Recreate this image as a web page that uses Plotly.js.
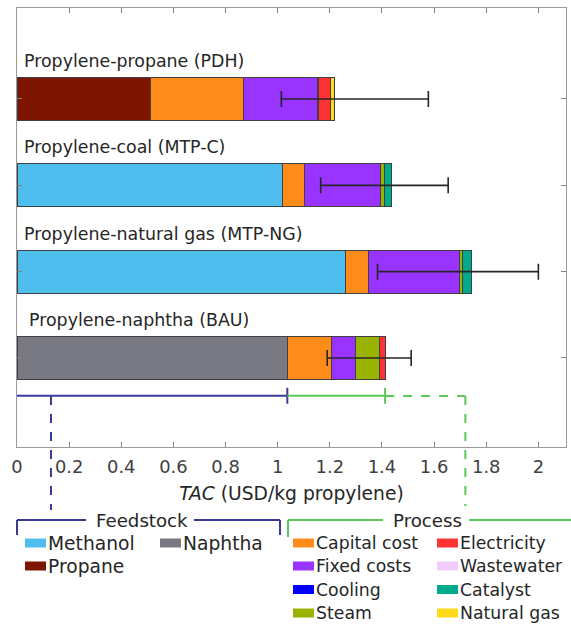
<!DOCTYPE html>
<html><head><meta charset="utf-8">
<script src="https://cdn.plot.ly/plotly-3.0.1.min.js"></script>
<style>html,body{margin:0;padding:0;background:#fff}#chart{width:571px;height:625px}</style>
</head><body><div id="chart"></div>
<script>
// ---------- data ----------
const categories = ['Propylene-naphtha (BAU)', 'Propylene-natural gas (MTP-NG)', 'Propylene-coal (MTP-C)', 'Propylene-propane (PDH)'];
const catPos = [1, 2, 3, 4];
const methanol    = [0, 1.260, 1.017, 0];
const propane     = [0, 0, 0, 0.512];
const naphtha     = [1.037, 0, 0, 0];
const capitalCost = [0.171, 0.090, 0.087, 0.356];
const fixedCosts  = [0.091, 0.346, 0.292, 0.283];
const cooling     = [0, 0, 0, 0];
const steam       = [0.091, 0.013, 0.012, 0.006];
const electricity = [0.022, 0, 0, 0.047];
const wastewater  = [0, 0, 0, 0];
const catalyst    = [0, 0.033, 0.029, 0];
const naturalGas  = [0, 0, 0, 0.013];
const errLow  = [1.190, 1.383, 1.165, 1.014];
const errHigh = [1.512, 2.000, 1.654, 1.578];
const xTickVals = [0, 0.2, 0.4, 0.6, 0.8, 1, 1.2, 1.4, 1.6, 1.8, 2];
const xTickText = ['0', '0.2', '0.4', '0.6', '0.8', '1', '1.2', '1.4', '1.6', '1.8', '2'];

const series = [
  {name: 'Methanol', v: methanol, c: '#4DBEEE', g: 'F'},
  {name: 'Propane', v: propane, c: '#7E1500', g: 'F'},
  {name: 'Naphtha', v: naphtha, c: '#797983', g: 'F'},
  {name: 'Capital cost', v: capitalCost, c: '#FF8C1A', g: 'P'},
  {name: 'Fixed costs', v: fixedCosts, c: '#9933FF', g: 'P'},
  {name: 'Cooling', v: cooling, c: '#0000FF', g: 'P'},
  {name: 'Steam', v: steam, c: '#99B300', g: 'P'},
  {name: 'Electricity', v: electricity, c: '#FF3333', g: 'P'},
  {name: 'Wastewater', v: wastewater, c: '#F2CCFF', g: 'P'},
  {name: 'Catalyst', v: catalyst, c: '#00AA8C', g: 'P'},
  {name: 'Natural gas', v: naturalGas, c: '#FFD91A', g: 'P'}
];

const FONT = 'DejaVu Sans, sans-serif';
const TXT = '#262626';

const traces = series.map(s => ({
  type: 'bar', orientation: 'h', name: s.name,
  y: catPos, x: s.v.map(v => v === 0 ? null : v),
  width: 0.5,
  marker: {color: s.c, line: {color: '#404040', width: 1}},
  showlegend: false, hoverinfo: 'x+name'
}));

const totals = catPos.map((_, i) => series.reduce((a, s) => a + s.v[i], 0));
traces.push({
  type: 'scatter', mode: 'markers', y: catPos, x: totals,
  marker: {size: 1, opacity: 0}, showlegend: false, hoverinfo: 'skip',
  error_x: {type: 'data', symmetric: false,
    array: totals.map((t, i) => errHigh[i] - t),
    arrayminus: totals.map((t, i) => t - errLow[i]),
    color: '#262626', thickness: 1.6, width: 8}
});

// ---------- layout helpers (pixel -> paper) ----------
const W = 571, H = 625, ML = 17, MR = 5, MT = 8, MB = 178;
const PW = W - ML - MR, PH = H - MT - MB;
const px = p => (p - ML) / PW;
const py = p => (H - MB - p) / PH;

const shapes = [];
const annotations = [];

// category labels
categories.forEach((c, i) => {
  annotations.push({xref: 'x', yref: 'y', x: i === 0 ? 0.038 : 0.019, y: catPos[i] + 0.44,
    text: c, showarrow: false, xanchor: 'left', yanchor: 'middle',
    font: {family: FONT, size: 17.4, color: TXT}});
});

// BAU bracket line (feedstock / process portions)
const BLUE = '#3A3A9A', GREEN = '#5CC85C';
const bauFeed = naphtha[0];
const bauTotal = totals[0];
const yBr = 0.563, yTk0 = 0.47, yTk1 = 0.655;
shapes.push({type: 'line', xref: 'x', yref: 'y', x0: 0, x1: bauFeed, y0: yBr, y1: yBr, line: {color: BLUE, width: 2}});
shapes.push({type: 'line', xref: 'x', yref: 'y', x0: bauFeed, x1: bauFeed, y0: yTk0, y1: yTk1, line: {color: BLUE, width: 2}});
shapes.push({type: 'line', xref: 'x', yref: 'y', x0: bauFeed, x1: bauTotal, y0: yBr, y1: yBr, line: {color: GREEN, width: 2}});
shapes.push({type: 'line', xref: 'x', yref: 'y', x0: bauTotal, x1: bauTotal, y0: yTk0, y1: yTk1, line: {color: GREEN, width: 2}});
// dashed connectors
const yBrPaper = py(396);
shapes.push({type: 'line', xref: 'paper', yref: 'paper', x0: px(51), x1: px(51), y0: yBrPaper, y1: py(510), line: {color: BLUE, width: 2, dash: 'dash'}});
shapes.push({type: 'line', xref: 'x', yref: 'paper', x0: bauTotal, x1: 1.72, y0: yBrPaper, y1: yBrPaper, line: {color: GREEN, width: 2, dash: 'dash'}});
shapes.push({type: 'line', xref: 'x', yref: 'paper', x0: 1.72, x1: 1.72, y0: yBrPaper, y1: py(506), line: {color: GREEN, width: 2, dash: 'dash'}});

// legend brackets
const lp = (x0, y0, x1, y1, c) => shapes.push({type: 'line', xref: 'paper', yref: 'paper', x0: px(x0), y0: py(y0), x1: px(x1), y1: py(y1), line: {color: c, width: 2}});
lp(17, 520, 86, 520, BLUE); lp(194, 520, 280, 520, BLUE);
lp(17, 520, 17, 535, BLUE); lp(280, 520, 280, 535, BLUE);
lp(288, 520, 383, 520, GREEN); lp(469, 520, 580, 520, GREEN);
lp(288, 520, 288, 537, GREEN);
annotations.push({xref: 'paper', yref: 'paper', x: px(141.5), y: py(520), text: 'Feedstock', showarrow: false, xanchor: 'center', yanchor: 'middle', font: {family: FONT, size: 18.2, color: TXT}});
annotations.push({xref: 'paper', yref: 'paper', x: px(427.5), y: py(520), text: 'Process', showarrow: false, xanchor: 'center', yanchor: 'middle', font: {family: FONT, size: 18.2, color: TXT}});

// legend items
const rows = [543, 566, 589.5, 613];
const legendPos = {
  'Methanol': [25, 0], 'Naphtha': [160, 0], 'Propane': [25, 1],
  'Capital cost': [293, 0], 'Fixed costs': [293, 1], 'Cooling': [293, 2], 'Steam': [293, 3],
  'Electricity': [437, 0], 'Wastewater': [437, 1], 'Catalyst': [437, 2], 'Natural gas': [437, 3]
};
series.forEach(s => {
  const [x, r] = legendPos[s.name];
  const y = rows[r];
  shapes.push({type: 'rect', xref: 'paper', yref: 'paper', x0: px(x), x1: px(x + 21), y0: py(y - 4.5), y1: py(y + 4.5), fillcolor: s.c, line: {width: 0}});
  annotations.push({xref: 'paper', yref: 'paper', x: px(x + 20.5), y: py(y), text: s.name, showarrow: false, xanchor: 'left', yanchor: 'middle',
    font: {family: FONT, size: s.g === 'F' ? 18.7 : 17.3, color: TXT}});
});

const layout = {
  width: W, height: H,
  margin: {l: ML, r: MR, t: MT, b: MB},
  paper_bgcolor: '#fff', plot_bgcolor: '#fff',
  barmode: 'stack', bargap: 0.5,
  font: {family: FONT, color: TXT, size: 17},
  xaxis: {
    range: [0, 2.106], tickvals: xTickVals, ticktext: xTickText,
    ticks: 'inside', ticklen: 5, tickcolor: '#808080', tickwidth: 1,
    showline: true, linecolor: '#9a9a9a', linewidth: 1, mirror: 'ticks',
    showgrid: false, zeroline: false, ticklabelstandoff: 4,
    tickfont: {family: FONT, size: 17.9, color: '#404040'},
    title: {text: '<i>TAC</i> (USD/kg propylene)', font: {family: FONT, size: 18.7, color: TXT}, standoff: 10}
  },
  yaxis: {
    range: [-0.031, 5.054], tickvals: catPos, showticklabels: false,
    ticks: 'inside', ticklen: 5, tickcolor: '#808080',
    showline: true, linecolor: '#9a9a9a', linewidth: 1, mirror: 'ticks',
    showgrid: false, zeroline: false
  },
  shapes: shapes, annotations: annotations,
  showlegend: false
};

Plotly.newPlot('chart', traces, layout, {displayModeBar: false, staticPlot: true});
</script>
</body></html>
